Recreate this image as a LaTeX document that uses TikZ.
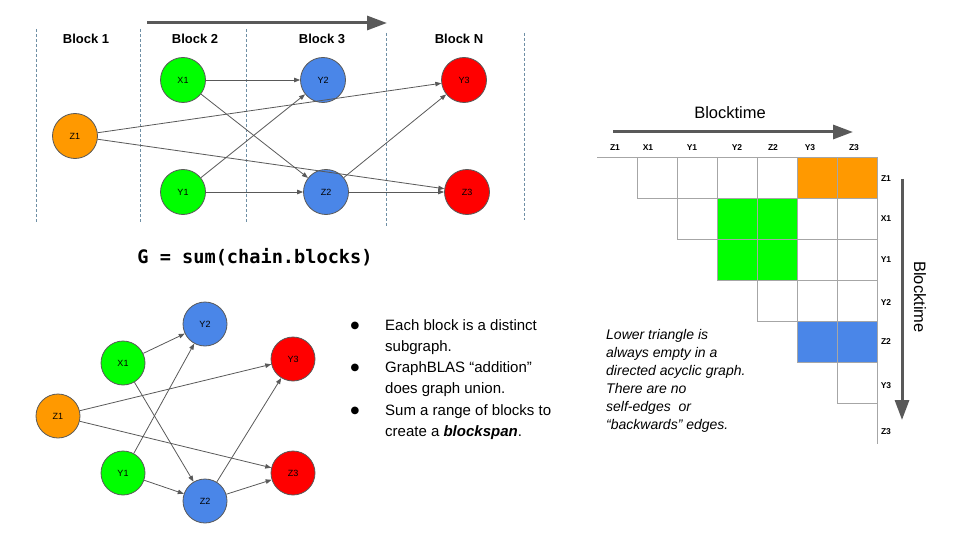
\documentclass[tikz,border=0pt]{standalone}
\usepackage{fontspec}
\setmainfont{Liberation Sans}
\setmonofont{DejaVu Sans Mono}
\newfontfamily\dotfont{DejaVu Sans}
\usetikzlibrary{arrows.meta}

\definecolor{vorange}{HTML}{FF9900}
\definecolor{vgreen}{HTML}{00FF00}
\definecolor{vblue}{HTML}{4A86E8}
\definecolor{vred}{HTML}{FF0000}
\definecolor{linegray}{HTML}{595959}
\definecolor{gridgray}{HTML}{A6A6A6}
\definecolor{sepblue}{HTML}{6F8FA5}

\tikzset{
  vtx/.style={circle, draw=linegray, line width=0.8pt, minimum size=45pt, inner sep=0pt, font=\fontsize{9}{10}\selectfont},
  svtx/.style={vtx, minimum size=44pt},
  edge/.style={->, draw=linegray, line width=0.8pt},
  bigarrow/.style={-{Triangle[length=20pt,width=14pt]}, draw=linegray, line width=3pt},
  sep/.style={draw=sepblue, line width=0.7pt, dash pattern=on 3pt off 2pt},
  cell/.style={draw=gridgray, line width=0.8pt},
  blocklbl/.style={font=\fontsize{13}{15}\selectfont\bfseries},
  mlbl/.style={font=\fontsize{8.5}{10}\selectfont\bfseries},
  timelbl/.style={font=\fontsize{16.5}{19}\selectfont},
  bullettxt/.style={anchor=north west, align=left, inner sep=0pt, font=\fontsize{15}{21}\selectfont},
  notetxt/.style={anchor=north west, align=left, inner sep=0pt, font=\fontsize{14}{18}\selectfont\itshape}
}

\begin{document}
\begin{tikzpicture}[x=1pt, y=-1pt, >={Triangle[length=6pt,width=4.5pt]}]
  \useasboundingbox (0,0) rectangle (960,540);

  % Chain of blocks
  \coordinate (chainstart) at (147,23);
  \coordinate (chainend) at (387,23);
  \draw[bigarrow] (chainstart) -- (chainend);
  \draw[sep] (36,29) -- (36,223);
  \draw[sep] (140,29) -- (140,223);
  \draw[sep] (246,29) -- (246,223);
  \draw[sep] (386,33) -- (386,227);
  \draw[sep] (524,33) -- (524,220);
  \node[blocklbl] (blk1) at (86,39) {Block 1};
  \node[blocklbl] (blk2) at (195,39) {Block 2};
  \node[blocklbl] (blk3) at (322,39) {Block 3};
  \node[blocklbl] (blkn) at (459,39) {Block N};

  % Vertices per block
  \node[vtx, fill=vorange] (z1) at (75,136) {Z1};
  \node[vtx, fill=vgreen] (x1) at (183,80) {X1};
  \node[vtx, fill=vgreen] (y1) at (183,192) {Y1};
  \node[vtx, fill=vblue] (y2) at (323,80) {Y2};
  \node[vtx, fill=vblue] (z2) at (326,192) {Z2};
  \node[vtx, fill=vred] (y3) at (464,80) {Y3};
  \node[vtx, fill=vred] (z3) at (467,192) {Z3};
  \draw[edge] (x1) -- (y2);
  \draw[edge] (x1) -- (z2);
  \draw[edge] (y1) -- (y2);
  \draw[edge] (y1) -- (z2);
  \draw[edge] (z1) -- (y3);
  \draw[edge] (z1) -- (z3);
  \draw[edge] (z2) -- (y3);
  \draw[edge] (z2) -- (z3);

  \node[font=\fontsize{18.6}{22}\selectfont\ttfamily\bfseries] (gsum) at (255,257) {G = sum(chain.blocks)};

  % Summed graph
  \node[svtx, fill=vorange] (gz1) at (58,416) {Z1};
  \node[svtx, fill=vgreen] (gx1) at (123,363) {X1};
  \node[svtx, fill=vgreen] (gy1) at (123,473) {Y1};
  \node[svtx, fill=vblue] (gy2) at (205,324) {Y2};
  \node[svtx, fill=vblue] (gz2) at (205,501) {Z2};
  \node[svtx, fill=vred] (gy3) at (293,359) {Y3};
  \node[svtx, fill=vred] (gz3) at (293,473) {Z3};
  \draw[edge] (gx1) -- (gy2);
  \draw[edge] (gx1) -- (gz2);
  \draw[edge] (gy1) -- (gy2);
  \draw[edge] (gy1) -- (gz2);
  \draw[edge] (gz1) -- (gy3);
  \draw[edge] (gz1) -- (gz3);
  \draw[edge] (gz2) -- (gy3);
  \draw[edge] (gz2) -- (gz3);

  % Bullets
  \node[font=\dotfont\fontsize{10}{10}\selectfont] (dot1) at (355,326) {●};
  \node[font=\dotfont\fontsize{10}{10}\selectfont] (dot2) at (355,368) {●};
  \node[font=\dotfont\fontsize{10}{10}\selectfont] (dot3) at (355,411) {●};
  \node[bullettxt] (item1) at (385,319) {Each block is a distinct\\subgraph.};
  \node[bullettxt] (item2) at (385,361) {GraphBLAS “addition”\\does graph union.};
  \node[bullettxt] (item3) at (385,404) {Sum a range of blocks to\\create a \textbf{\textit{blockspan}}.};

  % Adjacency matrix
  \fill[vorange] (797,157) rectangle (877,198);
  \fill[vgreen] (717,198) rectangle (797,280);
  \fill[vblue] (797,321) rectangle (877,362);
  \foreach \i in {0,...,5}
    \foreach \j in {\i,...,5}
      \draw[cell] (637+40*\j,157+41*\i) rectangle ++(40,41);
  \draw[cell] (597,157) -- (637,157);
  \draw[cell] (877,403) -- (877,444);

  \node[mlbl] (cz1) at (615,148) {Z1};
  \node[mlbl] (cx1) at (648,148) {X1};
  \node[mlbl] (cy1) at (692,148) {Y1};
  \node[mlbl] (cy2) at (737,148) {Y2};
  \node[mlbl] (cz2) at (773,148) {Z2};
  \node[mlbl] (cy3) at (810,148) {Y3};
  \node[mlbl] (cz3) at (854,148) {Z3};
  \node[mlbl] (rz1) at (886,179) {Z1};
  \node[mlbl] (rx1) at (886,219) {X1};
  \node[mlbl] (ry1) at (886,260) {Y1};
  \node[mlbl] (ry2) at (886,303) {Y2};
  \node[mlbl] (rz2) at (886,342) {Z2};
  \node[mlbl] (ry3) at (886,386) {Y3};
  \node[mlbl] (rz3) at (886,432) {Z3};

  % Time axes
  \coordinate (htail) at (613,132);
  \coordinate (hhead) at (853,132);
  \coordinate (vtail) at (902,179);
  \coordinate (vhead) at (902,420);
  \draw[bigarrow] (htail) -- (hhead);
  \draw[bigarrow] (vtail) -- (vhead);
  \node[timelbl] (timeh) at (730,113) {Blocktime};
  \node[timelbl, rotate=-90] (timev) at (920,297) {Blocktime};

  \node[notetxt] (note) at (606,329) {Lower triangle is\\always empty in a\\directed acyclic graph.\\There are no\\self-edges\ \ or\\“backwards” edges.};
\end{tikzpicture}
\end{document}
